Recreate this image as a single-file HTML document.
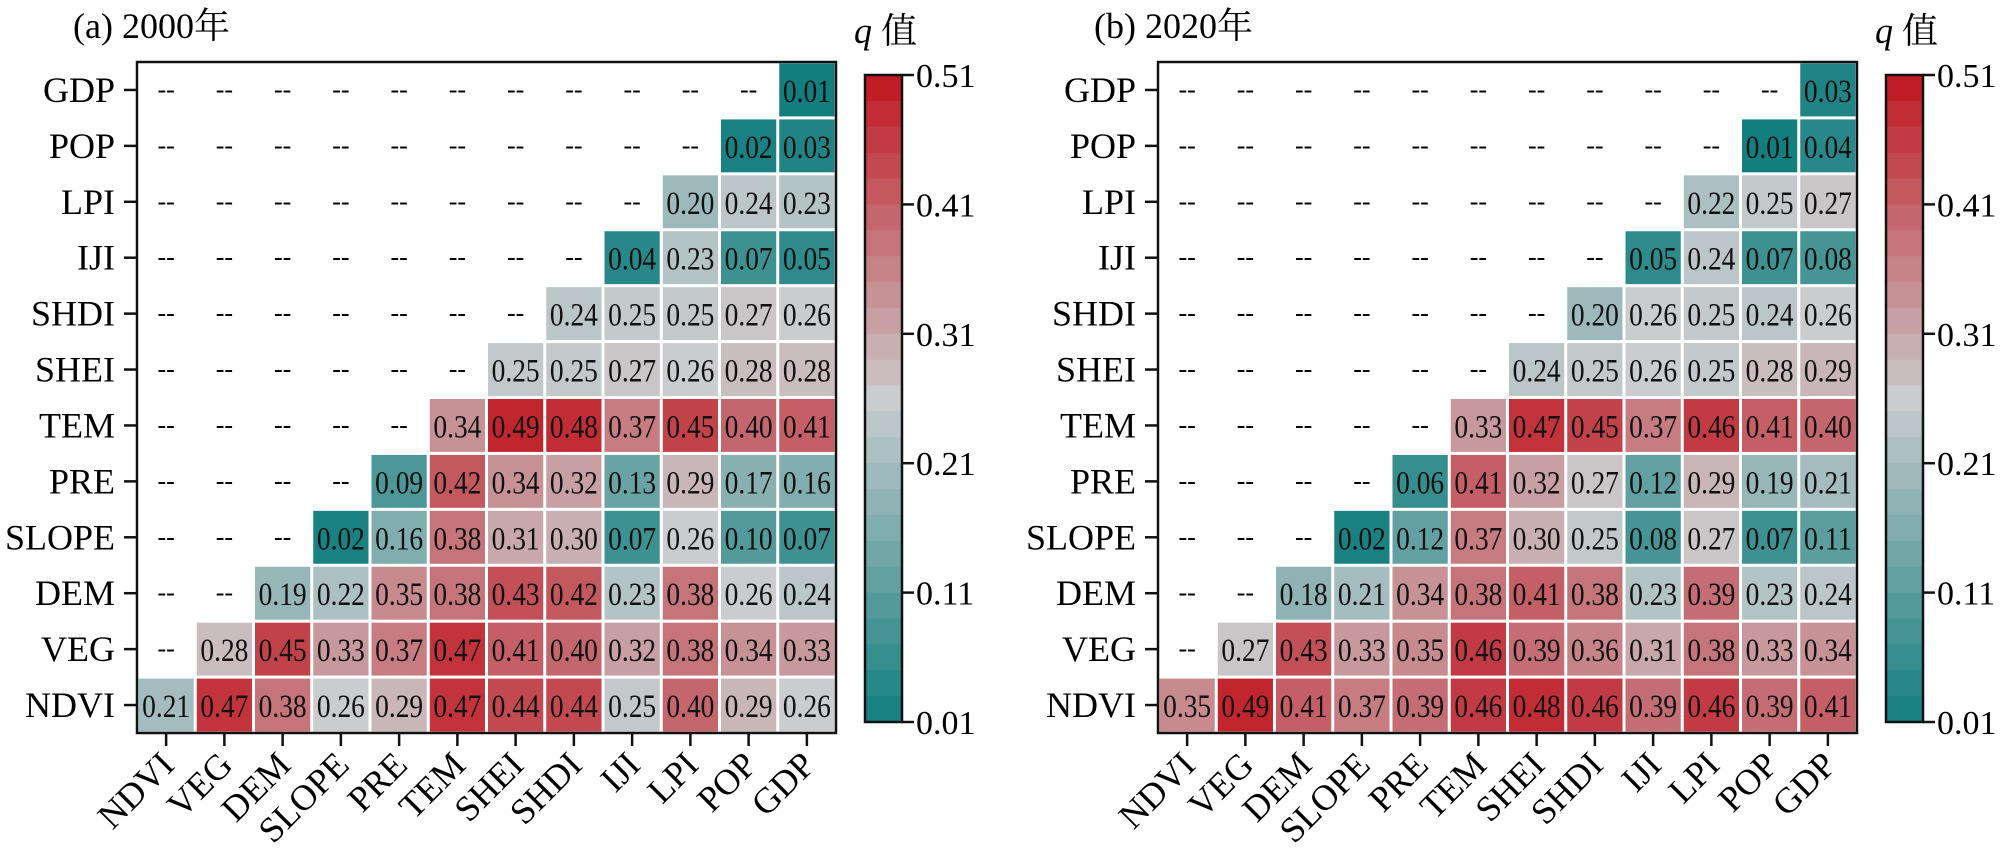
<!DOCTYPE html>
<html><head><meta charset="utf-8"><style>
html,body{margin:0;padding:0;background:#fff;}
svg{display:block;font-family:"Liberation Serif","Noto Serif CJK SC",serif;}
</style></head><body>
<svg id="s" width="2000" height="849" xmlns="http://www.w3.org/2000/svg"></svg>
<script>
const names=["NDVI","VEG","DEM","SLOPE","PRE","TEM","SHEI","SHDI","IJI","LPI","POP","GDP"];
const rowsL=[[0.01],[0.02,0.03],[0.20,0.24,0.23],[0.04,0.23,0.07,0.05],[0.24,0.25,0.25,0.27,0.26],[0.25,0.25,0.27,0.26,0.28,0.28],[0.34,0.49,0.48,0.37,0.45,0.40,0.41],[0.09,0.42,0.34,0.32,0.13,0.29,0.17,0.16],[0.02,0.16,0.38,0.31,0.30,0.07,0.26,0.10,0.07],[0.19,0.22,0.35,0.38,0.43,0.42,0.23,0.38,0.26,0.24],[0.28,0.45,0.33,0.37,0.47,0.41,0.40,0.32,0.38,0.34,0.33],[0.21,0.47,0.38,0.26,0.29,0.47,0.44,0.44,0.25,0.40,0.29,0.26]];
const rowsR=[[0.03],[0.01,0.04],[0.22,0.25,0.27],[0.05,0.24,0.07,0.08],[0.20,0.26,0.25,0.24,0.26],[0.24,0.25,0.26,0.25,0.28,0.29],[0.33,0.47,0.45,0.37,0.46,0.41,0.40],[0.06,0.41,0.32,0.27,0.12,0.29,0.19,0.21],[0.02,0.12,0.37,0.30,0.25,0.08,0.27,0.07,0.11],[0.18,0.21,0.34,0.38,0.41,0.38,0.23,0.39,0.23,0.24],[0.27,0.43,0.33,0.35,0.46,0.39,0.36,0.31,0.38,0.33,0.34],[0.35,0.49,0.41,0.37,0.39,0.46,0.48,0.46,0.39,0.46,0.39,0.41]];
function col(v){
 const teal=[18,126,126],grey=[202,204,206],red=[192,22,32];
 let a,b,t;
 if(v<=0.26){a=teal;b=grey;t=(v-0.01)/0.25;}else{a=grey;b=red;t=(v-0.26)/0.25;}
 t=Math.max(0,Math.min(1,t));
 return "rgb("+a.map((x,i)=>Math.round(x+(b[i]-x)*t)).join(",")+")";
}
let h="";
function panel(bx,title,rows){
 const top=62,bot=733,right=bx+699,cw=699/12,rh=(bot-top)/12;
 h+=`<text x="${bx-64}" y="38" font-size="36">${title}</text>`;
 for(let r=0;r<12;r++){
  const cy=top+rh*(r+0.5);
  h+=`<line x1="${bx-13}" y1="${cy}" x2="${bx}" y2="${cy}" stroke="#111" stroke-width="2.5"/>`;
  h+=`<text x="${bx-22}" y="${cy+12}" font-size="36" text-anchor="end">${names[11-r]}</text>`;
  const start=11-r;
  for(let c=0;c<12;c++){
   const cx=bx+cw*(c+0.5);
   if(c<start){h+=`<text x="${cx}" y="${cy+8}" font-size="26" text-anchor="middle">--</text>`;}
   else{const v=rows[r][c-start];
    h+=`<rect x="${bx+cw*c+1.5}" y="${top+rh*r+1.5}" width="${cw-3}" height="${rh-3}" fill="${col(v)}"/>`;
    h+=`<text x="${cx-24}" y="${cy+12}" font-size="33" textLength="48" lengthAdjust="spacingAndGlyphs" fill="#111">${v.toFixed(2)}</text>`;}
  }
 }
 for(let c=0;c<12;c++){
  const cx=bx+cw*(c+0.5);
  h+=`<line x1="${cx}" y1="${bot}" x2="${cx}" y2="${bot+13}" stroke="#111" stroke-width="2.5"/>`;
  h+=`<text transform="translate(${cx+10},${bot+34}) rotate(-45)" font-size="36" text-anchor="end">${names[c]}</text>`;
 }
 h+=`<rect x="${bx}" y="${top}" width="699" height="${bot-top}" fill="none" stroke="#111" stroke-width="2.5"/>`;
 const cbx=right+29,cbw=37,ct=75,cb=722,n=25;
 h+=`<text x="${cbx-11}" y="43" font-size="36"><tspan font-style="italic">q</tspan> 值</text>`;
 for(let i=0;i<n;i++){
  const y=ct+(cb-ct)*i/n; const v=0.51-0.5*(i+0.5)/n;
  h+=`<rect x="${cbx}" y="${y}" width="${cbw}" height="${(cb-ct)/n+0.6}" fill="${col(v)}"/>`;
 }
 h+=`<rect x="${cbx}" y="${ct}" width="${cbw}" height="${cb-ct}" fill="none" stroke="#111" stroke-width="2.5"/>`;
 for(let k=0;k<6;k++){
  const y=ct+(cb-ct)*k/5;
  h+=`<line x1="${cbx+cbw}" y1="${y}" x2="${cbx+cbw+12}" y2="${y}" stroke="#111" stroke-width="2.5"/>`;
  h+=`<text x="${cbx+cbw+14}" y="${y+12}" font-size="34">${(0.51-0.1*k).toFixed(2)}</text>`;
 }
}
panel(137,"(a) 2000年",rowsL);
panel(1158,"(b) 2020年",rowsR);
document.getElementById("s").innerHTML=h;
</script>
</body></html>
